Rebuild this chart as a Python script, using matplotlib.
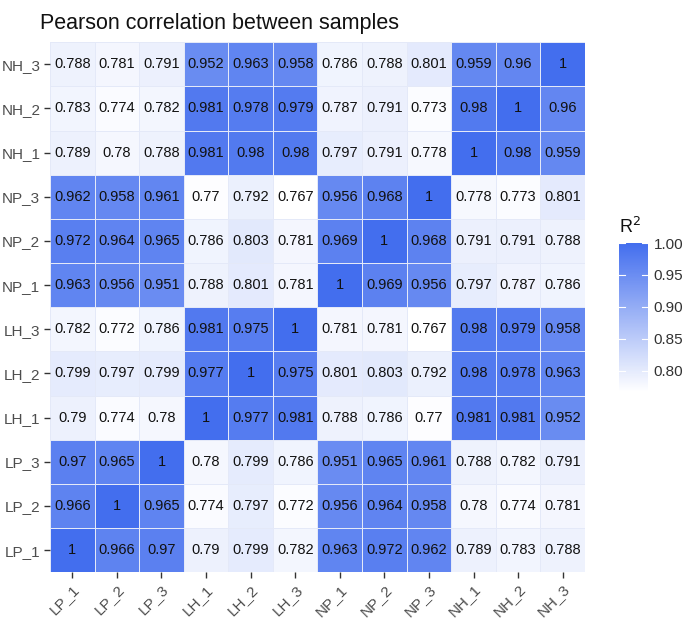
import numpy as np
import matplotlib
matplotlib.use("Agg")
import matplotlib.pyplot as plt
from matplotlib.colors import LinearSegmentedColormap

plt.rcParams['font.family'] = ['Liberation Sans', 'DejaVu Sans']

samples = ["LP_1", "LP_2", "LP_3", "LH_1", "LH_2", "LH_3",
           "NP_1", "NP_2", "NP_3", "NH_1", "NH_2", "NH_3"]

# rows / columns in the order of samples (row 0 = LP_1, drawn at the bottom)
r_lp1 = [1, 0.966, 0.97, 0.79, 0.799, 0.782, 0.963, 0.972, 0.962, 0.789, 0.783, 0.788]
r_lp2 = [0.966, 1, 0.965, 0.774, 0.797, 0.772, 0.956, 0.964, 0.958, 0.78, 0.774, 0.781]
r_lp3 = [0.97, 0.965, 1, 0.78, 0.799, 0.786, 0.951, 0.965, 0.961, 0.788, 0.782, 0.791]
r_lh1 = [0.79, 0.774, 0.78, 1, 0.977, 0.981, 0.788, 0.786, 0.77, 0.981, 0.981, 0.952]
r_lh2 = [0.799, 0.797, 0.799, 0.977, 1, 0.975, 0.801, 0.803, 0.792, 0.98, 0.978, 0.963]
r_lh3 = [0.782, 0.772, 0.786, 0.981, 0.975, 1, 0.781, 0.781, 0.767, 0.98, 0.979, 0.958]
r_np1 = [0.963, 0.956, 0.951, 0.788, 0.801, 0.781, 1, 0.969, 0.956, 0.797, 0.787, 0.786]
r_np2 = [0.972, 0.964, 0.965, 0.786, 0.803, 0.781, 0.969, 1, 0.968, 0.791, 0.791, 0.788]
r_np3 = [0.962, 0.958, 0.961, 0.77, 0.792, 0.767, 0.956, 0.968, 1, 0.778, 0.773, 0.801]
r_nh1 = [0.789, 0.78, 0.788, 0.981, 0.98, 0.98, 0.797, 0.791, 0.778, 1, 0.98, 0.959]
r_nh2 = [0.783, 0.774, 0.782, 0.981, 0.978, 0.979, 0.787, 0.791, 0.773, 0.98, 1, 0.96]
r_nh3 = [0.788, 0.781, 0.791, 0.952, 0.963, 0.958, 0.786, 0.788, 0.801, 0.959, 0.96, 1]

mat = np.array([r_lp1, r_lp2, r_lp3, r_lh1, r_lh2, r_lh3,
                r_np1, r_np2, r_np3, r_nh1, r_nh2, r_nh3])

cmap = LinearSegmentedColormap.from_list("r2", ["#FFFFFF", "#436EEE"])
vmin, vmax = mat.min(), 1.0

fig = plt.figure(figsize=(6.85, 6.2), dpi=100)
ax = fig.add_axes([0.073, 0.077, 0.781, 0.855])
n = len(samples)
mesh = ax.pcolormesh(np.arange(n + 1), np.arange(n + 1), mat, cmap=cmap,
                     vmin=vmin, vmax=vmax, edgecolor="#E4E9F8", linewidth=0.6)
for i in range(n):
    for j in range(n):
        ax.text(j + 0.5, i + 0.5, f"{mat[i, j]:g}", ha="center", va="center",
                fontsize=10.5, color="#111111")

ax.set_xlim(0, n)
ax.set_ylim(0, n)
ax.set_xticks(np.arange(n) + 0.5)
ax.set_yticks(np.arange(n) + 0.5)
ax.set_xticklabels(samples, rotation=45, ha="right", rotation_mode="anchor",
                   fontsize=11, color="#4D4D4D")
ax.set_yticklabels(samples, fontsize=11, color="#4D4D4D")
ax.tick_params(length=4, width=1, color="#333333", pad=3)
for s in ax.spines.values():
    s.set_visible(False)

fig.text(0.058, 0.962, "Pearson correlation between samples", fontsize=15.5,
         ha="left", va="center", color="#111111")

cax = fig.add_axes([0.904, 0.368, 0.042, 0.24])
cb = fig.colorbar(mesh, cax=cax, ticks=[0.80, 0.85, 0.90, 0.95, 1.00])
cb.outline.set_visible(False)
cb.ax.set_yticklabels(["0.80", "0.85", "0.90", "0.95", "1.00"], fontsize=11,
                      color="#333333")
cb.ax.tick_params(length=0, pad=4)
for t in [0.80, 0.85, 0.90, 0.95, 1.00]:
    cax.plot([0, 0.2], [t, t], color="white", lw=0.8, transform=cax.get_yaxis_transform())
    cax.plot([0.8, 1.0], [t, t], color="white", lw=0.8, transform=cax.get_yaxis_transform())
cax.text(0.0, 1.04, "R$^2$", transform=cax.transAxes, fontsize=13,
         ha="left", va="bottom", color="#111111")

fig.savefig("out.png", dpi=100)
